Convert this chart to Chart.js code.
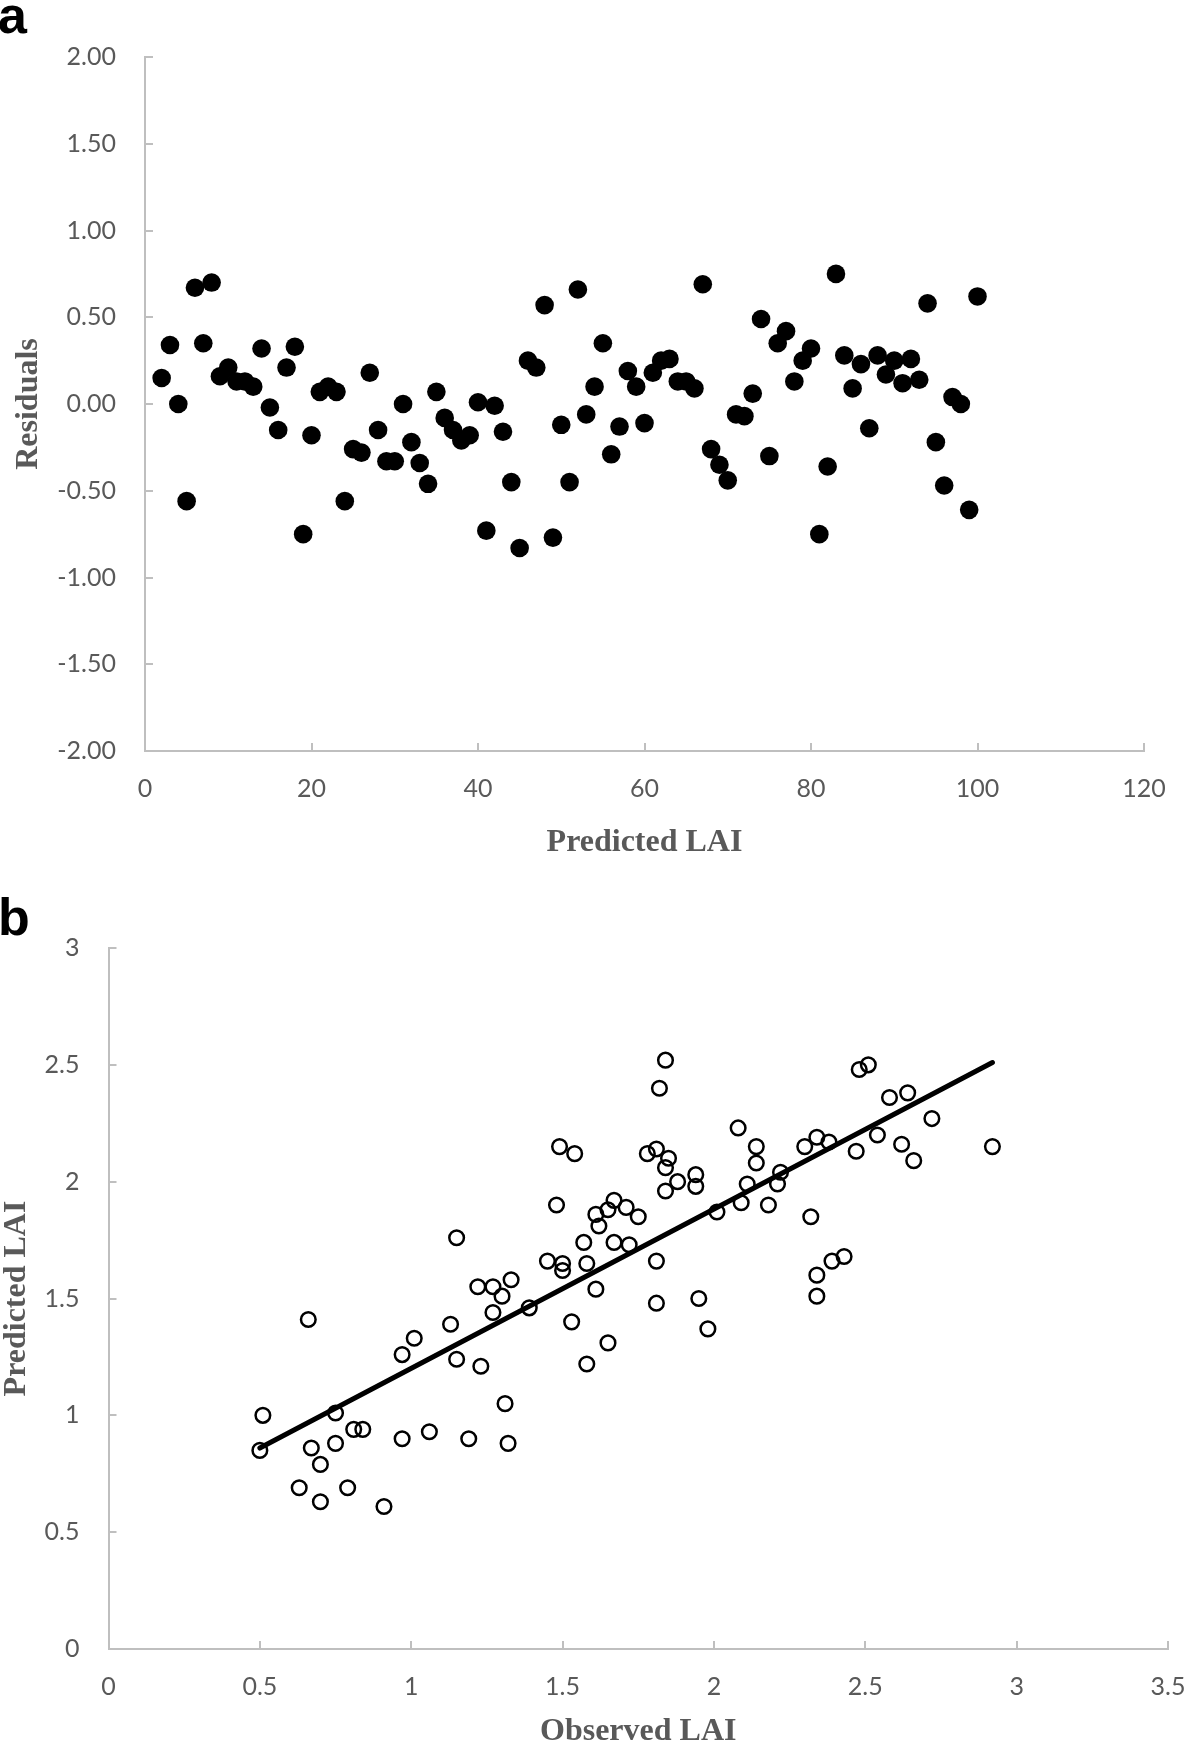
<!DOCTYPE html>
<html>
<head>
<meta charset="utf-8">
<script src="https://cdn.jsdelivr.net/npm/chart.js@4.4.1/dist/chart.umd.min.js"></script>
<style>
	html, body { margin: 0; padding: 0; background: #fff; overflow: hidden; }
	canvas { position: absolute; left: 0; }
	.tag { position: absolute; left: -2px; font: bold 52px "Liberation Sans", Arial, sans-serif; line-height: 52px; color: #000; z-index: 2; }
</style>
</head>
<body>
<canvas id="residualChart" width="1186" height="870" style="top:0"></canvas>
<canvas id="laiChart" width="1186" height="880" style="top:870px"></canvas>
<div class="tag" style="top:-11px">a</div>
<div class="tag" style="top:891px">b</div>
<script>
// panel a: residual of each sample, samples numbered from 2
var sampleStart = 2;
var residuals = [
	0.15, 0.34, 0.00, -0.56, 0.67, 0.35, 0.70, 0.16, 0.21, 0.13,
	0.13, 0.10, 0.32, -0.02, -0.15, 0.21, 0.33, -0.75, -0.18, 0.07,
	0.10, 0.07, -0.56, -0.26, -0.28, 0.18, -0.15, -0.33, -0.33, 0.00,
	-0.22, -0.34, -0.46, 0.07, -0.08, -0.15, -0.21, -0.18, 0.01, -0.73,
	-0.01, -0.16, -0.45, -0.83, 0.25, 0.21, 0.57, -0.77, -0.12, -0.45,
	0.66, -0.06, 0.10, 0.35, -0.29, -0.13, 0.19, 0.10, -0.11, 0.18,
	0.25, 0.26, 0.13, 0.13, 0.09, 0.69, -0.26, -0.35, -0.44, -0.06,
	-0.07, 0.06, 0.49, -0.30, 0.35, 0.42, 0.13, 0.25, 0.32, -0.75,
	-0.36, 0.75, 0.28, 0.09, 0.23, -0.14, 0.28, 0.17, 0.25, 0.12,
	0.26, 0.14, 0.58, -0.22, -0.47, 0.04, 0.00, -0.61, 0.62
];

// panel b: observed vs predicted LAI
var observed = [
	0.50, 0.51, 0.63, 0.66, 0.67, 0.70, 0.70, 0.75, 0.75, 0.79,
	0.81, 0.84, 0.91, 0.97, 0.97, 1.01, 1.06, 1.13, 1.15, 1.15,
	1.19, 1.22, 1.23, 1.27, 1.27, 1.30, 1.31, 1.32, 1.33, 1.39,
	1.45, 1.48, 1.49, 1.50, 1.50, 1.53, 1.54, 1.57, 1.58, 1.58,
	1.61, 1.61, 1.62, 1.65, 1.65, 1.67, 1.67, 1.71, 1.72, 1.75,
	1.78, 1.81, 1.81, 1.81, 1.82, 1.84, 1.84, 1.84, 1.85, 1.88,
	1.94, 1.94, 1.95, 1.98, 2.01, 2.08, 2.09, 2.11, 2.14, 2.14,
	2.18, 2.21, 2.22, 2.30, 2.32, 2.34, 2.34, 2.34, 2.38, 2.39,
	2.43, 2.47, 2.48, 2.51, 2.54, 2.58, 2.62, 2.64, 2.66, 2.72,
	2.92
];
var predicted = [
	0.85, 1.00, 0.69, 1.41, 0.86, 0.79, 0.63, 1.01, 0.88, 0.69,
	0.94, 0.94, 0.61, 0.90, 1.26, 1.33, 0.93, 1.39, 1.76, 1.24,
	0.90, 1.55, 1.21, 1.55, 1.44, 1.51, 1.05, 0.88, 1.58, 1.46,
	1.66, 1.90, 2.15, 1.65, 1.62, 1.40, 2.12, 1.74, 1.22, 1.65,
	1.54, 1.86, 1.81, 1.88, 1.31, 1.74, 1.92, 1.89, 1.73, 1.85,
	2.12, 1.66, 1.48, 2.14, 2.40, 2.52, 1.96, 2.06, 2.10, 2.00,
	2.03, 1.98, 1.50, 1.37, 1.87, 2.23, 1.91, 1.99, 2.08, 2.15,
	1.90, 1.99, 2.04, 2.15, 1.85, 1.51, 2.19, 1.60, 2.17, 1.66,
	1.68, 2.13, 2.48, 2.50, 2.20, 2.36, 2.16, 2.38, 2.09, 2.27,
	2.15
];
// fitted line end points
var trendX = [0.50, 2.92];
var trendY = [0.86, 2.51];

var textGrey = '#595959';
var axisGrey = '#BFBFBF';
Chart.defaults.font.family = 'Lato';
Chart.defaults.color = textGrey;

function each(list, fn) {
	for (var i = 0; i < list.length; i++) fn(list[i], i);
}

function axisOptions(horizontal, min, max, step, format, title, titlePadding, labelPadding, size) {
	return {
		type: 'linear',
		position: horizontal ? 'bottom' : 'left',
		min: min,
		max: max,
		afterFit: function (scale) {
			// fixed axis box, and no extra room kept for the end labels
			if (horizontal) {
				scale.height = size;
				scale.paddingLeft = 0;
				scale.paddingRight = 0;
			} else {
				scale.width = size;
				scale.paddingTop = 0;
				scale.paddingBottom = 0;
			}
		},
		grid: {
			drawOnChartArea: false,
			drawTicks: true,
			tickLength: -8,
			color: axisGrey,
			lineWidth: 2
		},
		border: {
			color: axisGrey,
			width: 2
		},
		ticks: {
			stepSize: step,
			padding: labelPadding,
			color: textGrey,
			font: { size: 25 },
			maxRotation: 0,
			callback: format
		},
		title: {
			display: true,
			text: title,
			color: textGrey,
			padding: titlePadding,
			font: {
				family: '"Liberation Serif", "Times New Roman", serif',
				size: 32,
				weight: 'bold',
				lineHeight: 1
			}
		}
	};
}

var residualPoints = [];
each(residuals, function (r, i) {
	residualPoints.push({ x: i + sampleStart, y: r });
});

var ctxA = document.getElementById('residualChart').getContext('2d');
var residualChart = new Chart(ctxA, {
	type: 'scatter',
	data: {
		datasets: [{
			data: residualPoints,
			backgroundColor: '#000',
			borderWidth: 0,
			pointRadius: 9.3,
			pointHoverRadius: 9.3
		}]
	},
	options: {
		responsive: false,
		animation: false,
		devicePixelRatio: 1,
		layout: { padding: { left: 0, right: 42, top: 57, bottom: 0 } },
		plugins: { legend: { display: false }, tooltip: { enabled: false } },
		scales: {
			x: axisOptions(true, 0, 120, 20, function (v) { return String(v); }, 'Predicted LAI', { bottom: 11.5 }, 31, 119),
			y: axisOptions(false, -2, 2, 0.5, function (v) { return v.toFixed(2); }, 'Residuals', { top: 12.5 }, 37, 145)
		}
	}
});

var laiPoints = [];
each(observed, function (o, i) {
	laiPoints.push({ x: o, y: predicted[i] });
});
var trendPoints = [];
each(trendX, function (t, i) {
	trendPoints.push({ x: t, y: trendY[i] });
});

var ctxB = document.getElementById('laiChart').getContext('2d');
var laiChart = new Chart(ctxB, {
	type: 'scatter',
	data: {
		datasets: [{
			data: trendPoints,
			showLine: true,
			borderColor: '#000',
			borderWidth: 5,
			borderCapStyle: 'round',
			pointRadius: 0,
			pointHoverRadius: 0
		}, {
			data: laiPoints,
			backgroundColor: 'rgba(0,0,0,0)',
			borderColor: '#000',
			borderWidth: 2.5,
			pointRadius: 7.3,
			pointHoverRadius: 7.3
		}]
	},
	options: {
		responsive: false,
		animation: false,
		devicePixelRatio: 1,
		layout: { padding: { left: 0, right: 18, top: 78, bottom: 0 } },
		plugins: { legend: { display: false }, tooltip: { enabled: false } },
		scales: {
			x: axisOptions(true, 0, 3.5, 0.5, function (v) { return String(v); }, 'Observed LAI', { bottom: 2.6 }, 31, 101),
			y: axisOptions(false, 0, 3, 0.5, function (v) { return String(v); }, 'Predicted LAI', { top: 1 }, 37, 108.5)
		}
	}
});
</script>
</body>
</html>
